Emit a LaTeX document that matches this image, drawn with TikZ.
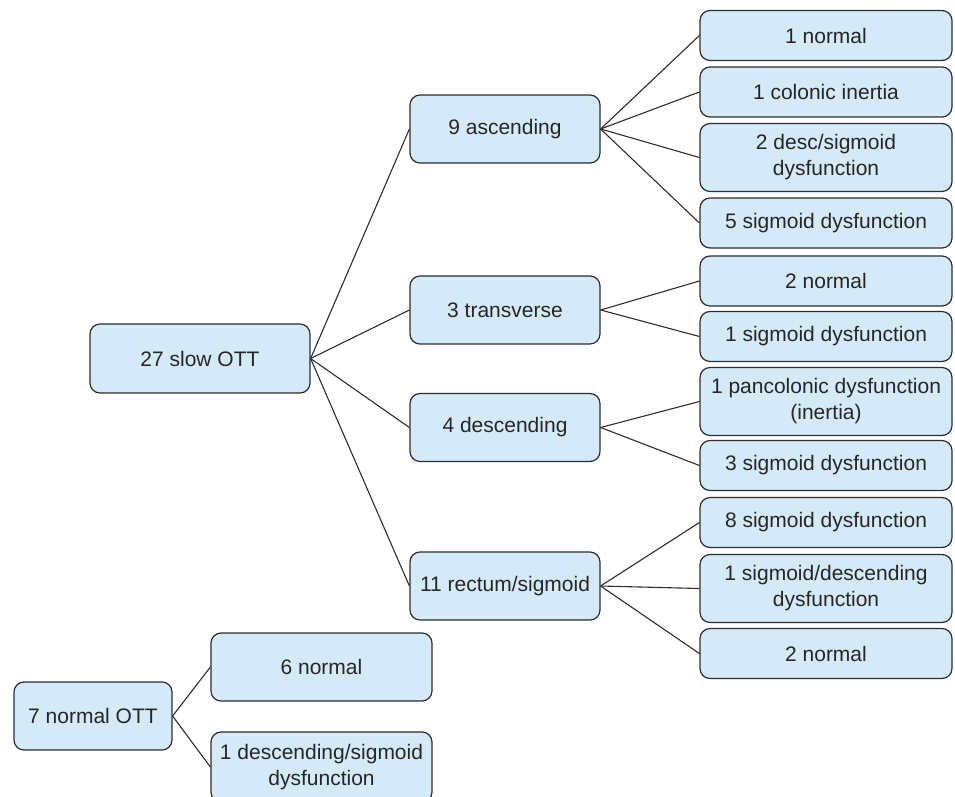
\documentclass[tikz,border=0pt]{standalone}
\usepackage{fontspec}
\setmainfont{Liberation Sans}
\definecolor{boxfill}{RGB}{213,234,248}
\definecolor{boxline}{RGB}{45,45,45}
\tikzset{basic/.style={draw=boxline,fill=boxfill,rounded corners=10pt,line width=1.2pt,align=center,text=black!85,font=\fontsize{21}{26}\selectfont,inner sep=0pt}}
\tikzset{root/.style={basic,minimum width=220pt,minimum height=69pt}}
\tikzset{mid/.style={basic,minimum width=190pt,minimum height=68pt}}
\tikzset{leaf/.style={basic,minimum width=252pt,minimum height=50pt}}
\tikzset{tall/.style={leaf,minimum height=68pt}}
\tikzset{lower/.style={basic,minimum width=221pt,minimum height=68pt}}
\tikzset{link/.style={draw=boxline,line width=1.1pt}}

\begin{document}
\begin{tikzpicture}[x=1pt,y=-1pt]
	\useasboundingbox (0,0) rectangle (955,797);

	\node[root] (slow) at (200,358.5) {27 slow OTT};
	\node[mid] (asc) at (505,129) {9 ascending};
	\node[mid] (trans) at (505,310) {3 transverse};
	\node[mid] (desc) at (505,427.5) {4 descending};
	\node[mid] (rect) at (505,586) {11 rectum/sigmoid};
	    \path[link] (slow.east) -- (asc.west);
	    \path[link] (slow.east) -- (trans.west);
	    \path[link] (slow.east) -- (desc.west);
	    \path[link] (slow.east) -- (rect.west);

	\node[leaf] (a1) at (826,35.5) {1 normal};
	\node[leaf] (a2) at (826,92) {1 colonic inertia};
	\node[tall] (a3) at (826,157.5) {2 desc/sigmoid\\dysfunction};
	\node[leaf] (a4) at (826,223) {5 sigmoid dysfunction};
	    \path[link] (asc.east) -- (a1.west);
	    \path[link] (asc.east) -- (a2.west);
	    \path[link] (asc.east) -- (a3.west);
	    \path[link] (asc.east) -- (a4.west);

	\node[leaf] (t1) at (826,281) {2 normal};
	\node[leaf] (t2) at (826,336.5) {1 sigmoid dysfunction};
	    \path[link] (trans.east) -- (t1.west);
	    \path[link] (trans.east) -- (t2.west);

	\node[tall] (d1) at (826,401.5) {1 pancolonic dysfunction\\(inertia)};
	\node[leaf] (d2) at (826,465.5) {3 sigmoid dysfunction};
	    \path[link] (desc.east) -- (d1.west);
	    \path[link] (desc.east) -- (d2.west);

	\node[leaf] (r1) at (826,522.5) {8 sigmoid dysfunction};
	\node[tall] (r2) at (826,588.5) {1 sigmoid/descending\\dysfunction};
	\node[leaf] (r3) at (826,653.5) {2 normal};
	    \path[link] (rect.east) -- (r1.west);
	    \path[link] (rect.east) -- (r2.west);
	    \path[link] (rect.east) -- (r3.west);

	\node[basic,minimum width=158pt,minimum height=68pt] (normal) at (93,716) {7 normal OTT};
	\node[lower] (n1) at (321.5,667) {6 normal};
	\node[lower,minimum height=70pt] (n2) at (321.5,767) {1 descending/sigmoid\\dysfunction};
	    \path[link] (normal.east) -- (n1.west);
	    \path[link] (normal.east) -- (n2.west);

\end{tikzpicture}
\end{document}
